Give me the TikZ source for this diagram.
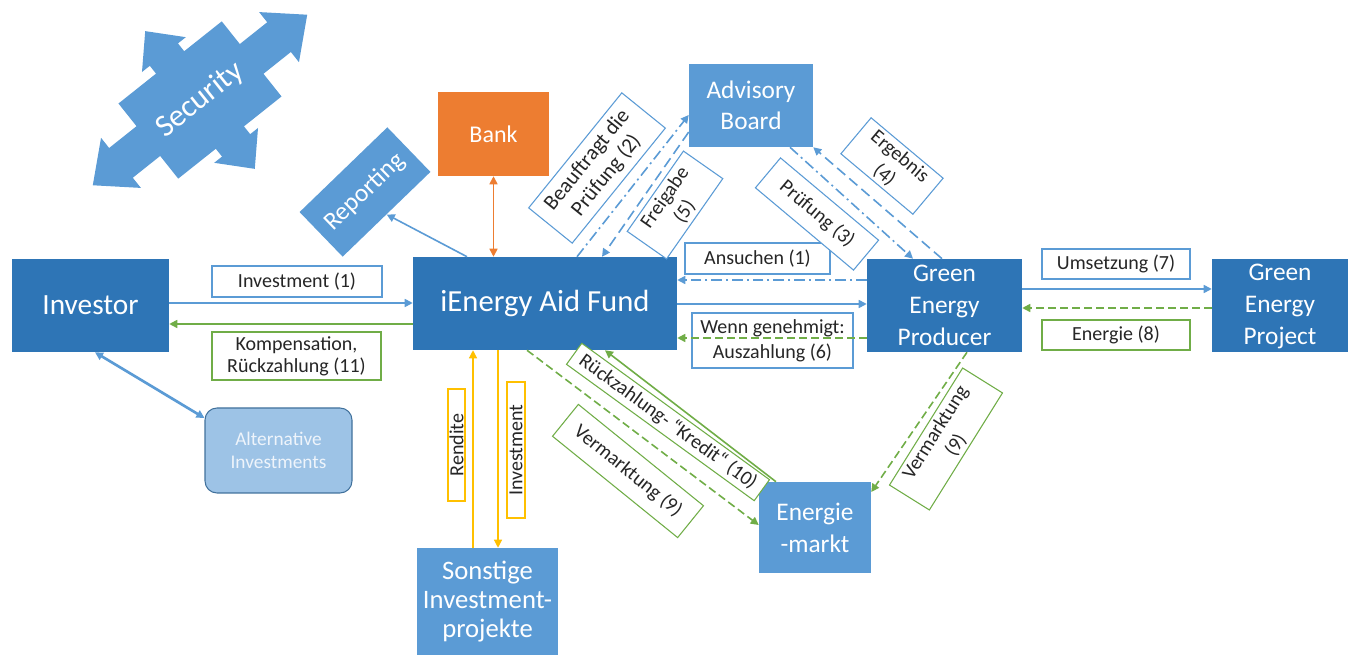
\documentclass[tikz,border=0pt]{standalone}
\usepackage{fontspec}
\setmainfont{Carlito}
\usetikzlibrary{arrows.meta,calc}
\definecolor{dblue}{HTML}{2E75B6}
\definecolor{mblue}{HTML}{5B9BD5}
\definecolor{lblue}{HTML}{9DC3E6}
\definecolor{bordblue}{HTML}{41719C}
\definecolor{gr}{HTML}{70AD47}
\definecolor{orng}{HTML}{ED7D31}
\definecolor{yel}{HTML}{FFC000}
\definecolor{boxtext}{HTML}{EEF4FB}
\definecolor{lbltext}{HTML}{262626}
\begin{document}
\begin{tikzpicture}[x=0.75pt,y=-0.75pt,
  sz/.style 2 args={minimum width={#1*0.75pt},minimum height={#2*0.75pt}},
  mainbox/.style={fill=dblue, text=white, inner sep=0pt, align=center, font=\fontsize{19}{24}\selectfont},
  medbox/.style={fill=mblue, text=white, inner sep=0pt, align=center, font=\fontsize{19}{24}\selectfont},
  lbl/.style={draw, fill=white, text=lbltext, inner sep=0pt, align=center, line width=0.8pt, font=\fontsize{15}{18}\selectfont},
  lblb/.style={lbl, draw=mblue},
  lblg/.style={lbl, draw=gr},
  lbly/.style={lbl, draw=yel},
  arr/.style={line width=1.2pt, -{Triangle[length=6pt,width=6pt]}},
  darr/.style={line width=1.2pt, {Triangle[length=6pt,width=6pt]}-{Triangle[length=6pt,width=6pt]}},
  bl/.style={draw=mblue},
  gl/.style={draw=gr},
  gdash/.style={dash pattern=on 6pt off 3pt},
  bdash/.style={dash pattern=on 8pt off 4pt},
  mydashdot/.style={dash pattern=on 8pt off 3pt on 1.5pt off 3pt},
]
\useasboundingbox (0,0) rectangle (1350,655);

% Security shape
\begin{scope}[shift={(200,100)}, rotate=38.5, yscale=-1]
\fill[mblue] (137,0) -- (101,32) -- (101,19) -- (66,19) -- (66,48) -- (18,48) -- (18,58) -- (28,58) -- (0,88)
  -- (-28,58) -- (-18,58) -- (-18,48) -- (-66,48) -- (-66,19) -- (-101,19) -- (-101,32) -- (-137,0)
  -- (-101,-32) -- (-101,-19) -- (-66,-19) -- (-66,-48) -- (-18,-48) -- (-18,-58) -- (-28,-58) -- (0,-88)
  -- (28,-58) -- (18,-58) -- (18,-48) -- (66,-48) -- (66,-19) -- (101,-19) -- (101,-32) -- cycle;
\end{scope}
\node[text=white, rotate=38.5, font=\fontsize{23.5}{28}\selectfont] (sec) at (200,100) {Security};

% main boxes
\node[mainbox, sz={157}{93}, font=\fontsize{22}{26}\selectfont] (inv) at (90.5,305.5) {Investor};
\node[mainbox, sz={264}{93}, font=\fontsize{23}{28}\selectfont] (fund) at (545,303.5) {iEnergy Aid Fund};
\node[mainbox, sz={155}{93}] (prod) at (944.5,305.5) {Green\\Energy\\Producer};
\node[mainbox, sz={136}{93}] (proj) at (1280,306) {Green\\Energy\\Project};
\node[medbox, sz={124}{83}, font=\fontsize{19}{23}\selectfont] (adv) at (751,105.5) {Advisory\\Board};
\node[fill=orng, text=white, inner sep=0pt, sz={111}{84}, font=\fontsize{18}{22}\selectfont] (bank) at (493.5,134) {Bank};
\node[medbox, sz={122}{62}, rotate=44] (rep) at (365,192) {Reporting};
\node[rounded corners=9pt, fill=lblue, draw=bordblue, line width=0.8pt, text=boxtext, inner sep=0pt, align=center, sz={147}{85}, font=\fontsize{14.5}{17.5}\selectfont] (alt) at (278.5,450.5) {Alternative\\Investments};
\node[medbox, sz={141}{107}, font=\fontsize{20}{21.5}\selectfont] (son) at (487.5,601.5) {Sonstige\\Investment-\\projekte};
\node[medbox, sz={112}{91}] (mkt) at (815,527.5) {Energie\\-markt};

% labels
\node[lblb, sz={170}{31}] (l1) at (297,281.5) {Investment (1)};
\node[lblg, sz={169}{48}, font=\fontsize{15}{16.5}\selectfont] (l2) at (296.5,356) {Kompensation,\\Rückzahlung (11)};
\node[lblb, sz={145}{31}] (l3) at (757.5,258.5) {Ansuchen (1)};
\node[lblb, sz={161}{55}, font=\fontsize{15}{18.5}\selectfont] (l4) at (772.5,340.5) {Wenn genehmigt:\\Auszahlung (6)};
\node[lblb, sz={148}{30}] (l5) at (1116,264) {Umsetzung (7)};
\node[lblg, sz={148}{30}] (l6) at (1116,335) {Energie (8)};
\node[lblb, sz={148}{56}, rotate=51, font=\fontsize{16}{18.5}\selectfont] (l7) at (597,168) {Beauftragt die\\Prüfung (2)};
\node[lblb, sz={98}{48}, rotate=55] (l8) at (675,205) {Freigabe\\(5)};
\node[lblb, sz={128}{39}, rotate=-40] (l9) at (817,214) {Prüfung (3)};
\node[lblb, sz={94}{47}, rotate=-40] (l10) at (892,166) {Ergebnis\\(4)};
\node[lblg, sz={138}{47}, rotate=58] (l11) at (946,439) {Vermarktung\\(9)};
\node[lblg, sz={161}{41}, rotate=-39] (l12) at (628,471) {Vermarktung (9)};
\node[lblg, sz={232}{26}, rotate=-36] (l13) at (668,422) {Rückzahlung- “Kredit“ (10)};
\node[lbly, sz={112}{17}, rotate=90] (l14) at (456.5,445) {Rendite};
\node[lbly, sz={136}{18}, rotate=90] (l15) at (516,450) {Investment};

% connectors
\draw[arr, bl] (inv.east |- 0,303) -- (fund.west |- 0,303);
\draw[arr, gl] (fund.west |- 0,324) -- (inv.east |- 0,324);
\draw[darr, bl, line width=2pt] (inv.south -| 95,0) -- (alt.west |- 0,418);
\draw[arr, bl] (fund.north -| 467,0) -- (rep.south);
\draw[darr, draw=orng] (bank.south) -- (fund.north -| bank.south);
\draw[arr, bl, mydashdot] (fund.north -| 577,0) -- (adv.west |- 0,115);
\draw[arr, bl, bdash] (adv.west |- 0,132) -- (fund.north -| 602,0);
\draw[arr, bl, mydashdot] (adv.south -| 790,0) -- (prod.north -| 913,0);
\draw[arr, bl, bdash] (prod.north -| 942,0) -- (adv.south east);
\draw[arr, bl, mydashdot] (prod.west |- 0,280) -- (fund.east |- 0,280);
\draw[arr, bl] (fund.east |- 0,304) -- (prod.west |- 0,304);
\draw[arr, gl, gdash] (prod.west |- 0,338) -- (fund.east |- 0,338);
\draw[arr, bl] (prod.east |- 0,289) -- (proj.west |- 0,289);
\draw[arr, gl, gdash] (proj.west |- 0,308) -- (prod.east |- 0,308);
\draw[arr, gl, gdash] (prod.south -| 967,0) -- (mkt.east |- 0,492);
\draw[arr, gl, gdash] (fund.south -| 527,0) -- (mkt.west |- 0,525);
\draw[arr, gl] (mkt.north -| 776,0) -- (fund.south -| 605,0);
\draw[arr, draw=yel, line width=0.9pt] (son.north -| 473,0) -- (fund.south -| 473,0);
\draw[arr, draw=yel, line width=0.9pt] (fund.south -| 498,0) -- (son.north -| 498,0);
\end{tikzpicture}
\end{document}
